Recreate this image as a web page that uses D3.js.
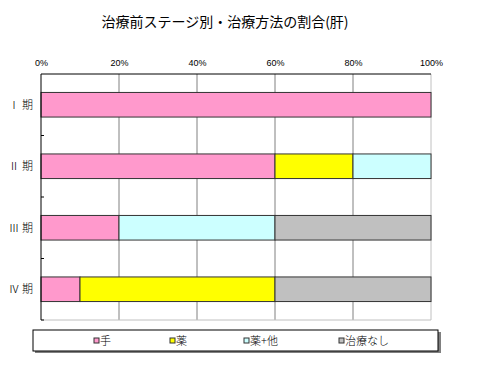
<!DOCTYPE html>
<html>
<head>
<meta charset="utf-8">
<script src="https://cdn.jsdelivr.net/npm/d3@7"></script>
<style>
body { margin: 0; background: #fff; }
svg { font-family: "Noto Sans CJK JP", sans-serif; }
</style>
</head>
<body>
<script>
// stage categories and treatment series (percent)
const stages = ['Ⅰ 期', 'Ⅱ 期', 'Ⅲ 期', 'Ⅳ 期'];
const seriesNames = ['手', '薬', '薬+他', '治療なし'];
const seriesColors = ['#FF99CC', '#FFFF00', '#CCFFFF', '#C0C0C0'];
const surgery = [100, 60, 20, 10];
const drug = [0, 20, 0, 50];
const drugOther = [0, 20, 40, 0];
const noTreat = [0, 0, 40, 40];
const tickVals = [0, 20, 40, 60, 80, 100];

const width = 480, height = 372;
const m = { left: 41, right: 49, top: 74, bottom: 52 };

const rows = stages.map((s, i) => ({
  stage: s, '手': surgery[i], '薬': drug[i], '薬+他': drugOther[i], '治療なし': noTreat[i]
}));

const svg = d3.select('body').append('svg')
  .attr('width', width)
  .attr('height', height);

svg.append('text')
  .attr('x', 225).attr('y', 27)
  .attr('text-anchor', 'middle')
  .style('font-size', '14px')
  .style('font-weight', 'normal')
  .text('治療前ステージ別・治療方法の割合(肝)');

const x = d3.scaleLinear().domain([0, 100]).range([m.left, width - m.right]);
const y = d3.scaleBand().domain(stages).range([m.top, height - m.bottom]).paddingInner(0.6).paddingOuter(0.3);
const band = d3.scaleBand().domain(stages).range([m.top, height - m.bottom]);

// grid
svg.append('g').selectAll('line')
  .data(tickVals.slice(1, -1))
  .enter().append('line')
  .attr('x1', d => x(d)).attr('x2', d => x(d))
  .attr('y1', m.top).attr('y2', height - m.bottom)
  .attr('stroke', '#808080').attr('stroke-width', 1);

// plot border
svg.append('line').attr('x1', x(100)).attr('x2', x(100))
  .attr('y1', m.top).attr('y2', height - m.bottom).attr('stroke', '#c0c0c0');
svg.append('line').attr('x1', m.left).attr('x2', x(100))
  .attr('y1', height - m.bottom).attr('y2', height - m.bottom).attr('stroke', '#c0c0c0');
svg.append('line').attr('x1', m.left).attr('x2', x(100))
  .attr('y1', m.top).attr('y2', m.top).attr('stroke', '#000');

// top axis
const xAxis = d3.axisTop(x).tickValues(tickVals).tickFormat(d => d + '%').tickSize(0).tickPadding(8);
const gx = svg.append('g').attr('transform', `translate(0,${m.top})`).call(xAxis);
gx.select('.domain').remove();
gx.selectAll('text').style('font-size', '9px').style('font-family', 'Arial, "Liberation Sans", sans-serif').attr('fill', '#000');

// stacked bars
const stack = d3.stack().keys(seriesNames)(rows);
svg.append('g').selectAll('g')
  .data(stack)
  .enter().append('g')
  .attr('fill', (d, i) => seriesColors[i])
  .selectAll('rect')
  .data(d => d.filter(v => v[1] > v[0]))
  .enter().append('rect')
  .attr('x', d => x(d[0]))
  .attr('width', d => x(d[1]) - x(d[0]))
  .attr('y', d => y(d.data.stage))
  .attr('height', y.bandwidth())
  .attr('stroke', '#333')
  .attr('stroke-width', 1);

// left axis
svg.append('line').attr('x1', m.left).attr('x2', m.left)
  .attr('y1', m.top).attr('y2', height - m.bottom).attr('stroke', '#000');
svg.append('g').selectAll('line')
  .data(stages.slice(1).concat(['end']))
  .enter().append('line')
  .attr('x1', m.left).attr('x2', m.left + 3)
  .attr('y1', (d, i) => band(stages[0]) + band.bandwidth() * (i + 1))
  .attr('y2', (d, i) => band(stages[0]) + band.bandwidth() * (i + 1))
  .attr('stroke', '#000');
svg.append('g').selectAll('text')
  .data(stages)
  .enter().append('text')
  .attr('x', 33)
  .attr('y', d => y(d) + y.bandwidth() / 2 + 4)
  .attr('text-anchor', 'end')
  .style('font-size', '11px')
  .style('font-weight', '300')
  .text(d => d);

// legend
const lg = svg.append('g');
lg.append('rect').attr('x', 35).attr('y', 332).attr('width', 406).attr('height', 21).attr('fill', '#808080');
lg.append('rect').attr('x', 33).attr('y', 330).attr('width', 405).attr('height', 21)
  .attr('fill', '#fff').attr('stroke', '#000').attr('stroke-width', 1);
const lx = [94, 170, 244, 339];
const items = lg.selectAll('g.item')
  .data(seriesNames)
  .enter().append('g')
  .attr('transform', (d, i) => `translate(${lx[i]},341)`);
items.append('rect')
  .attr('x', 0).attr('y', -3).attr('width', 5).attr('height', 5)
  .attr('fill', (d, i) => seriesColors[i]).attr('stroke', '#333');
items.append('text')
  .attr('x', 6).attr('y', 4)
  .style('font-size', '11px')
  .style('font-weight', '300')
  .text(d => d);
</script>
</body>
</html>
